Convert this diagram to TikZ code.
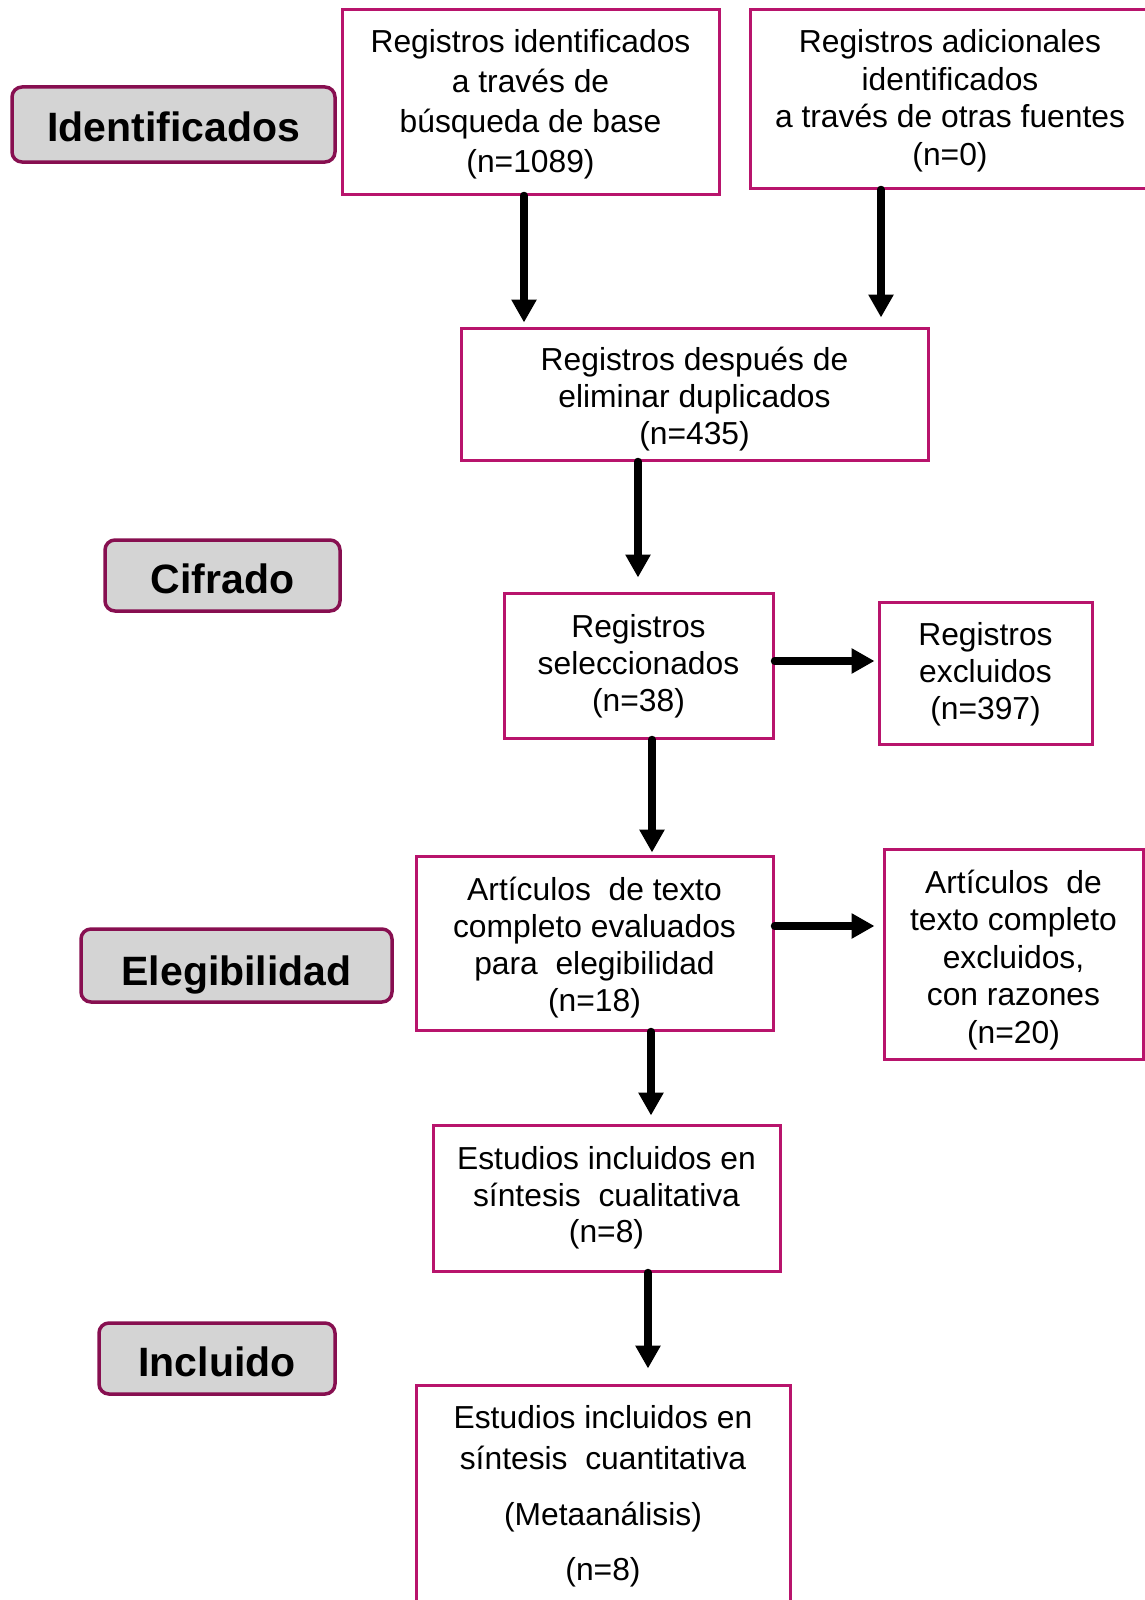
\documentclass[tikz,border=0pt]{standalone}
\usepackage{fontspec}
\setmainfont{Liberation Sans}
\usetikzlibrary{arrows.meta}
\definecolor{boxc}{RGB}{184,20,108}
\definecolor{labc}{RGB}{135,15,80}
\definecolor{labfill}{RGB}{212,212,212}
\newcommand\toppad[1]{\rule{0pt}{#1pt}}
\begin{document}
\begin{tikzpicture}[x=1pt,y=-1pt,
  box/.style={draw=boxc, line width=3pt, fill=white, align=center, inner sep=0pt,
    font=\fontsize{31.8}{37}\selectfont},
  lab/.style={draw=labc, line width=3.5pt, fill=labfill, rounded corners=10pt, inner sep=0pt,
    font=\fontsize{41}{45}\selectfont\bfseries},
  arr/.style={line width=7.5pt, line cap=round, -{Triangle[length=23pt,width=24pt]}}]
\useasboundingbox (0,0) rectangle (1145,1600);

% phase labels
\node[lab, minimum width=323pt, minimum height=75pt] (L1) at (173.5,124.5) {\toppad{34}Identificados};
\node[lab, minimum width=235pt, minimum height=71pt] (L2) at (222.5,575.5) {\toppad{36}Cifrado};
\node[lab, minimum width=311pt, minimum height=73pt] (L3) at (236.5,965.5) {\toppad{48}Elegibilidad};
\node[lab, minimum width=236pt, minimum height=71pt] (L4) at (217,1358.5) {\toppad{36}Incluido};

% boxes
\node[box, minimum width=377pt, minimum height=184pt, font=\fontsize{31.8}{40}\selectfont] (A) at (530.5,102)
  {\toppad{27}Registros identificados\\a través de\\búsqueda de base\\(n=1089)};
\node[box, minimum width=400pt, minimum height=178pt, font=\fontsize{31.8}{37.5}\selectfont] (B) at (950,99)
  {\toppad{27}Registros adicionales\\identificados\\a través de otras fuentes\\(n=0)};
\node[box, minimum width=467pt, minimum height=132pt] (C) at (694.5,394)
  {\toppad{33}Registros después de\\eliminar duplicados\\(n=435)};
\node[box, minimum width=269pt, minimum height=145pt] (D) at (638.5,665.5)
  {\toppad{25}Registros\\seleccionados\\(n=38)};
\node[box, minimum width=213pt, minimum height=142pt] (E) at (985.5,673)
  {\toppad{25}Registros\\excluidos\\(n=397)};
\node[box, minimum width=357pt, minimum height=174pt] (F) at (594.5,943)
  {\toppad{33}Artículos\ \ de texto\\completo evaluados\\para\ \ elegibilidad\\(n=18)};
\node[box, minimum width=259pt, minimum height=210pt, font=\fontsize{31.8}{37.5}\selectfont] (G) at (1013.5,954)
  {\toppad{35}Artículos\ \ de\\texto completo\\excluidos,\\con razones\\(n=20)};
\node[box, minimum width=347pt, minimum height=146pt, font=\fontsize{31.8}{36.5}\selectfont] (H) at (606.5,1198)
  {Estudios incluidos en\\síntesis\ \ cualitativa\\(n=8)};
\node[box, minimum width=374pt, minimum height=218pt, font=\fontsize{31.8}{41}\selectfont] (I) at (603,1494)
  {\toppad{27}Estudios incluidos en\\síntesis\ \ cuantitativa\\[15pt](Metaanálisis)\\[14pt](n=8)};

% connectors
\coordinate (a1) at ([xshift=-6.5pt]A.south);
\draw[arr, shorten >=4pt] (a1) -- (a1 |- C.north);
\coordinate (b1) at ([xshift=-69pt]B.south);
\draw[arr, shorten >=9pt] (b1) -- (b1 |- C.north);
\coordinate (c1) at ([xshift=-56.5pt]C.south);
\draw[arr, shorten >=14pt] (c1) -- (c1 |- D.north);
\coordinate (d1) at ([yshift=4.5pt]D.east);
\draw[arr, shorten >=3pt] (d1) -- (d1 -| E.west);
\coordinate (d2) at ([xshift=13.5pt]D.south);
\draw[arr, shorten >=2pt] (d2) -- (d2 |- F.north);
\coordinate (f1) at ([yshift=17pt]F.east);
\draw[arr, shorten >=8pt] (f1) -- (f1 -| G.west);
\coordinate (f2) at ([xshift=56.5pt]F.south);
\draw[arr, shorten >=8pt] (f2) -- (f2 |- H.north);
\coordinate (h1) at ([xshift=41.5pt]H.south);
\draw[arr, shorten >=15pt] (h1) -- (h1 |- I.north);
\end{tikzpicture}
\end{document}
